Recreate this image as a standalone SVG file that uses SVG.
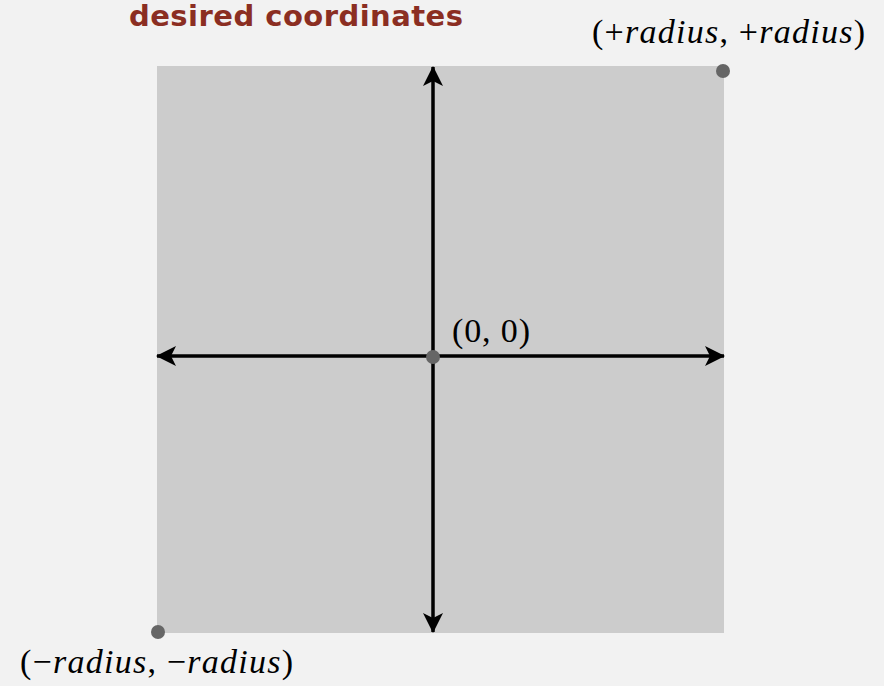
<svg xmlns="http://www.w3.org/2000/svg" width="884" height="686" viewBox="0 0 884 686">
<style>
.lbl{font-family:"Liberation Serif","Times New Roman",serif;font-size:34px;fill:#000}
.it{font-style:italic}
.title{font-family:"DejaVu Sans","Lucida Sans",sans-serif;font-weight:bold;font-size:29px;fill:#8b2e22}
.axis{stroke:#000;stroke-width:3.5;fill:none}
.dot{fill:#666}
</style>
<defs>
<marker id="ah" viewBox="0 0 20 20" refX="19" refY="10" markerWidth="20" markerHeight="20" markerUnits="userSpaceOnUse" orient="auto">
<path d="M0,0 L20,10 L0,20 L5,10 Z" fill="#000"/>
</marker>
</defs>
<rect width="884" height="686" fill="#f2f2f2"/>
<g id="title"><text class="title" x="129" y="26" textLength="334">desired coordinates</text></g>
<g id="square"><rect x="157" y="66" width="567" height="567" fill="#cccccc"/></g>
<g id="connectors">
<line class="axis" x1="433" y1="356" x2="433" y2="67" marker-end="url(#ah)"/>
<line class="axis" x1="433" y1="356" x2="433" y2="632" marker-end="url(#ah)"/>
<line class="axis" x1="433" y1="356" x2="157" y2="356" marker-end="url(#ah)"/>
<line class="axis" x1="433" y1="356" x2="724" y2="356" marker-end="url(#ah)"/>
</g>
<g id="origin"><circle class="dot" cx="433" cy="357" r="7"/><text class="lbl" x="452" y="342" textLength="78">(0, 0)</text></g>
<g id="topright"><circle class="dot" cx="723" cy="71" r="7"/><text class="lbl" x="592" y="43" textLength="273">(+<tspan class="it">radius</tspan>, +<tspan class="it">radius</tspan>)</text></g>
<g id="bottomleft"><circle class="dot" cx="158" cy="632" r="7"/><text class="lbl" x="20" y="673" textLength="273">(−<tspan class="it">radius</tspan>, −<tspan class="it">radius</tspan>)</text></g>
</svg>
